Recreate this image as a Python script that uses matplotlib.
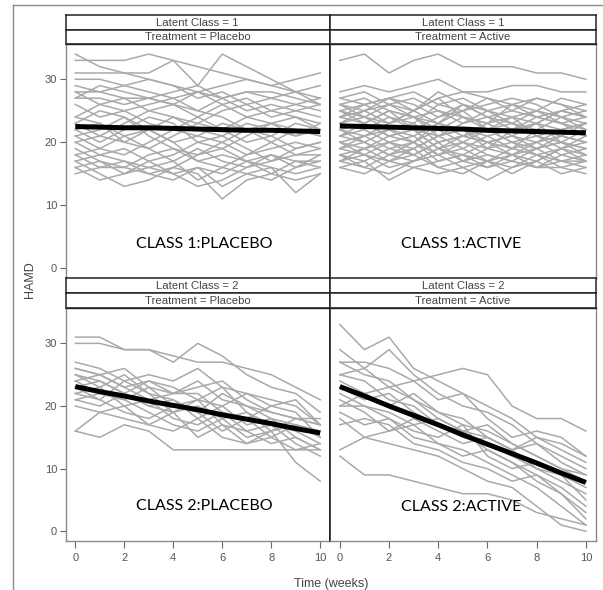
import matplotlib
matplotlib.use("Agg")
import matplotlib.pyplot as plt
from matplotlib.lines import Line2D

weeks = list(range(11))

# individual trajectories, class 1 placebo
c1_placebo = [
    [34, 32, 31, 30, 29, 28, 27, 28, 27, 26, 25],
    [33, 33, 33, 34, 33, 32, 31, 30, 29, 28, 27],
    [31, 31, 31, 31, 33, 29, 34, 32, 30, 28, 26],
    [30, 30, 29, 28, 27, 28, 29, 30, 29, 30, 31],
    [29, 28, 29, 30, 29, 27, 28, 26, 27, 28, 29],
    [28, 28, 27, 27, 28, 29, 27, 28, 28, 27, 26],
    [28, 26, 27, 25, 24, 23, 25, 26, 24, 25, 24],
    [27, 29, 28, 27, 26, 28, 26, 27, 25, 24, 23],
    [27, 27, 26, 27, 26, 25, 27, 25, 26, 25, 26],
    [26, 24, 25, 26, 27, 25, 24, 22, 23, 24, 22],
    [24, 23, 21, 22, 24, 22, 21, 23, 22, 21, 22],
    [23, 25, 24, 22, 20, 21, 23, 22, 20, 22, 21],
    [22, 23, 20, 19, 21, 23, 22, 20, 21, 19, 20],
    [22, 20, 22, 24, 23, 20, 19, 21, 23, 22, 21],
    [21, 19, 18, 20, 22, 21, 20, 18, 19, 20, 19],
    [21, 22, 24, 21, 19, 18, 20, 22, 21, 23, 22],
    [20, 18, 19, 17, 18, 20, 21, 19, 17, 18, 18],
    [20, 21, 20, 22, 20, 17, 18, 17, 18, 17, 17],
    [19, 17, 16, 18, 19, 17, 16, 18, 20, 18, 19],
    [18, 19, 21, 19, 17, 19, 17, 16, 17, 19, 20],
    [18, 16, 17, 16, 15, 16, 13, 15, 16, 15, 16],
    [17, 15, 13, 14, 16, 15, 11, 14, 15, 17, 16],
    [17, 18, 17, 15, 14, 16, 15, 17, 16, 12, 15],
    [16, 17, 15, 16, 17, 14, 16, 15, 14, 16, 17],
    [16, 14, 15, 17, 15, 13, 14, 16, 18, 16, 18],
    [15, 16, 16, 15, 16, 18, 19, 17, 15, 14, 15],
    [24, 26, 25, 23, 22, 24, 26, 24, 25, 26, 27],
    [23, 21, 23, 25, 26, 24, 22, 24, 23, 21, 23],
]

# class 1 active
c1_active = [
    [33, 34, 31, 33, 34, 32, 32, 32, 31, 31, 30],
    [28, 29, 28, 29, 30, 28, 28, 29, 29, 28, 28],
    [27, 26, 27, 28, 26, 27, 25, 26, 27, 26, 25],
    [27, 28, 26, 25, 27, 28, 27, 25, 24, 25, 26],
    [26, 25, 27, 26, 24, 25, 26, 27, 26, 24, 25],
    [26, 27, 25, 24, 25, 23, 24, 25, 27, 26, 24],
    [25, 24, 26, 27, 25, 24, 23, 24, 25, 27, 26],
    [25, 26, 24, 23, 26, 25, 27, 26, 24, 23, 24],
    [24, 23, 25, 24, 23, 26, 24, 23, 22, 24, 23],
    [24, 25, 23, 25, 27, 24, 22, 23, 25, 24, 22],
    [23, 22, 24, 22, 21, 23, 25, 24, 23, 22, 23],
    [23, 24, 22, 21, 23, 22, 21, 22, 24, 23, 21],
    [22, 21, 23, 24, 22, 20, 22, 24, 21, 20, 22],
    [22, 23, 21, 20, 22, 24, 23, 21, 20, 22, 21],
    [21, 20, 22, 23, 20, 21, 20, 19, 22, 21, 20],
    [21, 22, 20, 19, 21, 22, 19, 20, 21, 19, 20],
    [20, 19, 21, 22, 19, 18, 20, 21, 19, 20, 19],
    [20, 21, 19, 18, 20, 21, 22, 20, 18, 19, 18],
    [19, 18, 20, 21, 18, 19, 21, 19, 20, 18, 19],
    [19, 20, 18, 17, 19, 20, 18, 17, 19, 20, 18],
    [18, 17, 19, 20, 17, 18, 17, 18, 17, 19, 17],
    [18, 19, 17, 18, 20, 17, 16, 18, 19, 17, 18],
    [17, 18, 16, 17, 18, 16, 17, 16, 18, 17, 16],
    [17, 16, 18, 19, 16, 17, 18, 17, 16, 18, 17],
    [16, 17, 14, 16, 17, 18, 16, 17, 16, 16, 15],
    [16, 15, 17, 16, 15, 16, 14, 16, 17, 15, 16],
    [26, 24, 23, 25, 28, 26, 24, 22, 23, 25, 24],
    [24, 26, 27, 25, 23, 21, 23, 26, 25, 23, 22],
    [22, 20, 18, 20, 23, 25, 22, 20, 19, 21, 23],
    [21, 23, 25, 22, 19, 17, 19, 22, 23, 20, 19],
    [20, 18, 17, 19, 21, 19, 17, 15, 17, 19, 21],
    [19, 21, 22, 20, 18, 20, 19, 18, 16, 17, 17],
    [18, 16, 15, 17, 19, 21, 20, 18, 20, 21, 20],
    [17, 19, 20, 18, 16, 15, 17, 19, 18, 16, 17],
    [25, 23, 21, 22, 24, 26, 25, 23, 21, 22, 23],
    [23, 25, 26, 24, 21, 22, 20, 21, 23, 25, 24],
]

# class 2 placebo
c2_placebo = [
    [31, 31, 29, 29, 28, 27, 27, 26, 25, 23, 21],
    [30, 30, 29, 29, 27, 30, 28, 25, 23, 22, 19],
    [27, 26, 24, 25, 24, 26, 23, 22, 20, 21, 17],
    [26, 25, 26, 23, 22, 23, 24, 21, 19, 18, 18],
    [25, 24, 22, 24, 23, 21, 20, 22, 21, 20, 17],
    [25, 23, 25, 22, 21, 19, 22, 20, 18, 17, 16],
    [24, 25, 23, 21, 22, 22, 19, 18, 20, 19, 15],
    [24, 22, 21, 23, 20, 21, 23, 19, 17, 16, 14],
    [23, 24, 22, 20, 21, 18, 20, 17, 18, 15, 13],
    [23, 21, 24, 22, 19, 20, 18, 19, 16, 17, 15],
    [22, 23, 20, 21, 18, 17, 19, 16, 17, 14, 12],
    [22, 21, 19, 18, 20, 19, 16, 18, 15, 13, 14],
    [21, 22, 21, 19, 17, 16, 18, 15, 16, 11, 8],
    [20, 19, 20, 17, 19, 15, 17, 16, 14, 15, 13],
    [16, 15, 17, 16, 13, 13, 13, 13, 13, 13, 13],
    [16, 19, 18, 17, 16, 18, 15, 14, 15, 17, 16],
    [26, 25, 23, 24, 22, 24, 21, 20, 19, 18, 17],
    [21, 20, 22, 20, 19, 21, 17, 14, 16, 18, 17],
]

# class 2 active
c2_active = [
    [33, 29, 31, 26, 24, 22, 20, 18, 15, 13, 11],
    [29, 26, 29, 25, 22, 20, 19, 17, 14, 12, 10],
    [27, 27, 26, 24, 21, 22, 18, 15, 16, 15, 12],
    [27, 25, 24, 21, 19, 17, 16, 14, 12, 10, 8],
    [25, 26, 23, 24, 25, 26, 25, 20, 18, 18, 16],
    [24, 22, 20, 22, 19, 18, 15, 13, 14, 11, 9],
    [23, 21, 22, 19, 17, 15, 14, 12, 10, 8, 6],
    [22, 20, 19, 17, 18, 16, 13, 11, 9, 7, 4],
    [21, 19, 16, 18, 16, 14, 15, 13, 10, 9, 7],
    [20, 20, 18, 16, 15, 17, 12, 10, 11, 9, 5],
    [19, 17, 18, 15, 14, 12, 13, 11, 8, 6, 3],
    [18, 15, 16, 17, 14, 13, 11, 9, 7, 4, 1],
    [17, 18, 17, 14, 13, 11, 10, 8, 9, 6, 2],
    [13, 15, 14, 13, 12, 10, 8, 7, 4, 1, 0],
    [12, 9, 9, 8, 7, 6, 6, 5, 3, 2, 1],
    [20, 22, 23, 21, 18, 16, 17, 14, 12, 10, 9],
    [25, 24, 21, 20, 17, 16, 15, 13, 15, 14, 12],
]

# fitted class means
mean_c1_placebo = [22.5, 22.4, 22.3, 22.3, 22.2, 22.1, 22.0, 21.9, 21.9, 21.8, 21.7]
mean_c1_active = [22.6, 22.5, 22.4, 22.3, 22.2, 22.1, 21.9, 21.8, 21.7, 21.6, 21.5]
mean_c2_placebo = [23.1, 22.3, 21.6, 20.8, 20.1, 19.4, 18.6, 17.9, 17.2, 16.4, 15.7]
mean_c2_active = [23.1, 21.6, 20.0, 18.5, 17.0, 15.4, 13.9, 12.4, 10.9, 9.3, 7.8]

classes = ["1", "1", "2", "2"]
treatments = ["Placebo", "Active", "Placebo", "Active"]
labels = ["CLASS 1:PLACEBO", "CLASS 1:ACTIVE", "CLASS 2:PLACEBO", "CLASS 2:ACTIVE"]
subjects = [c1_placebo, c1_active, c2_placebo, c2_active]
means = [mean_c1_placebo, mean_c1_active, mean_c2_placebo, mean_c2_active]

W, H = 603, 590
plt.rcParams["font.family"] = ["Liberation Sans", "DejaVu Sans"]
fig = plt.figure(figsize=(W / 100, H / 100), dpi=100)


def rect(x0, y0, x1, y1):
    # pixel box (top-left origin) -> figure fraction
    return [x0 / W, 1 - y1 / H, (x1 - x0) / W, (y1 - y0) / H]


cols = [(65.5, 330), (330, 595.7)]
rows = [(15, 29.5, 44, 277.7), (277.7, 292.7, 308.3, 540.7)]
label_pos = [(5.25, 3.8), (4.95, 3.8), (5.25, 4.0), (4.95, 3.9)]

grey_line = "#a9a9a9"
frame = "#8a8a8a"
dark = "#222222"

for i in range(4):
    r, c = divmod(i, 2)
    x0, x1 = cols[c]
    h0, h1, p0, p1 = rows[r]

    # header strips
    for (ya, yb), txt in zip([(h0, h1), (h1, p0)],
                             ["Latent Class = " + classes[i], "Treatment = " + treatments[i]]):
        hx = fig.add_axes(rect(x0, ya, x1, yb))
        hx.set_xticks([])
        hx.set_yticks([])
        for s in hx.spines.values():
            s.set_color(dark)
            s.set_linewidth(1.1)
        hx.text(0.5, 0.45, txt, ha="center", va="center", fontsize=8.2,
                color="#444444", transform=hx.transAxes)

    ax = fig.add_axes(rect(x0, p0, x1, p1))
    for subj in subjects[i]:
        ax.plot(weeks, subj, color=grey_line, lw=1.1, zorder=1)
    ax.plot(weeks, means[i], color="black", lw=3.6, solid_capstyle="butt", zorder=3)
    ax.text(label_pos[i][0], label_pos[i][1], labels[i], ha="center", va="center",
            fontsize=11.5, family=["Lato", "DejaVu Sans"], color="black", zorder=4)

    ax.set_xlim(-0.4, 10.4)
    ax.set_ylim(-1.5, 35.6)
    for name, s in ax.spines.items():
        s.set_color(frame)
        s.set_linewidth(1.0)
    ax.spines["top"].set_color(dark)
    if c == 0:
        ax.spines["right"].set_color(dark)
        ax.spines["right"].set_linewidth(1.2)
    else:
        ax.spines["left"].set_color(dark)
        ax.spines["left"].set_linewidth(1.2)

    ax.tick_params(colors="#666666", labelcolor="#555555", labelsize=8, width=0.8)
    if c == 0:
        ax.set_yticks([0, 10, 20, 30])
        ax.tick_params(axis="y", length=4, pad=2)
    else:
        ax.set_yticks([])
    if r == 1:
        ax.set_xticks([0, 2, 4, 6, 8, 10])
        ax.tick_params(axis="x", length=5, pad=4)
    else:
        ax.set_xticks([])

fig.text(30 / W, 1 - 280 / H, "HAMD", rotation=90, ha="center", va="center",
         fontsize=9, color="#444444")
fig.text(331 / W, 1 - 584 / H, "Time (weeks)", ha="center", va="center",
         fontsize=9, color="#444444")

# outer frame, cut by the image edge on right and bottom
fig.add_artist(Line2D([13.3 / W, 13.3 / W], [0, 1 - 4.7 / H], color=frame, lw=1.0))
fig.add_artist(Line2D([13.3 / W, 1], [1 - 4.7 / H, 1 - 4.7 / H], color=frame, lw=1.0))

fig.savefig("out.png", dpi=100)
